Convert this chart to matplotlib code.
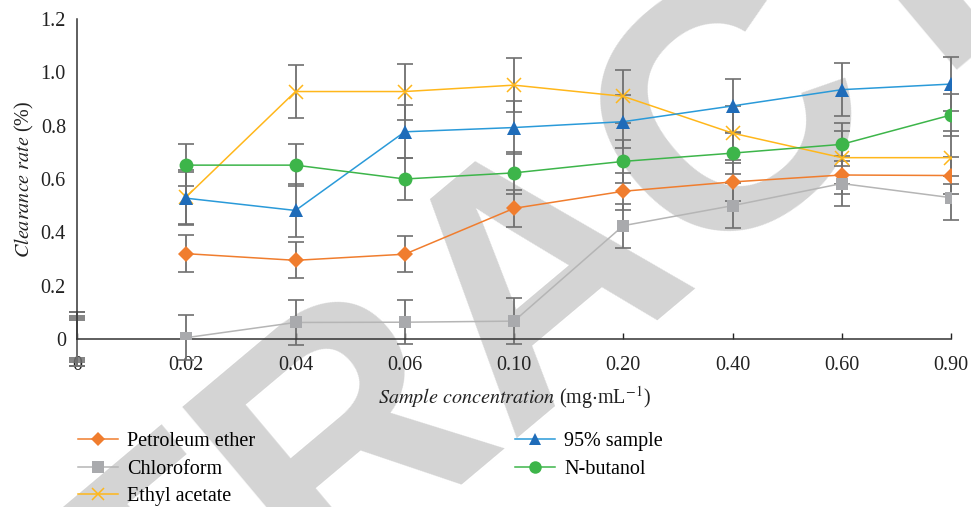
import numpy as np
import matplotlib.pyplot as plt
from matplotlib.lines import Line2D

plt.rcParams['font.family'] = ['Liberation Serif', 'DejaVu Serif']
plt.rcParams['mathtext.fontset'] = 'stix'

# concentrations (categorical axis)
conc = ['0', '0.02', '0.04', '0.06', '0.10', '0.20', '0.40', '0.60', '0.90']

# clearance rate (%) per extract, first point is the blank (0)
petroleum = [0, 0.32, 0.295, 0.318, 0.49, 0.554, 0.589, 0.615, 0.613]
chloroform = [0, 0.005, 0.062, 0.063, 0.067, 0.425, 0.50, 0.583, 0.53]
ethyl = [0, 0.533, 0.928, 0.928, 0.952, 0.91, 0.772, 0.68, 0.68]
sample95 = [0, 0.528, 0.482, 0.777, 0.793, 0.815, 0.874, 0.935, 0.956]
butanol = [0, 0.652, 0.652, 0.60, 0.623, 0.666, 0.697, 0.73, 0.84]

# error bars
petroleum_err = [0.07, 0.07, 0.068, 0.068, 0.07, 0.07, 0.07, 0.07, 0.07]
chloroform_err = [0.085, 0.085, 0.083, 0.083, 0.086, 0.082, 0.085, 0.083, 0.083]
ethyl_err = [0.1, 0.1, 0.1, 0.105, 0.1, 0.1, 0.1, 0.1, 0.1]
sample95_err = [0.1, 0.1, 0.1, 0.1, 0.1, 0.1, 0.1, 0.1, 0.1]
butanol_err = [0.08, 0.08, 0.08, 0.08, 0.08, 0.08, 0.08, 0.08, 0.08]

series = [
    ('Petroleum ether', petroleum, petroleum_err, '#F07D2E', '#F07D2E', 'D', 8),
    ('Chloroform', chloroform, chloroform_err, '#B5B5B5', '#A9AAAD', 's', 9),
    ('Ethyl acetate', ethyl, ethyl_err, '#FFB71B', '#FFB71B', 'x', 10),
    ('95% sample', sample95, sample95_err, '#2A9AD9', '#1F6CB9', '^', 10),
    ('N-butanol', butanol, butanol_err, '#3DB54A', '#3DB54A', 'o', 10),
]

fig = plt.figure(figsize=(9.71, 5.07), dpi=100)

# retraction watermark in the background
fig.text(0.620, 0.315, 'RETRACTED', fontsize=250, fontweight='bold',
         family='Liberation Sans', color='#d4d4d4', rotation=40,
         ha='center', va='baseline', rotation_mode='anchor', zorder=-1)

ax = fig.add_axes([77/971, 1-339/507, (951-77)/971, (339-19)/507])
ax.patch.set_alpha(0)

x = np.arange(len(conc))
handles = []
for name, vals, err, lc, mc, mk, ms in series:
    ax.errorbar(x, vals, yerr=err, fmt='none', ecolor='#707070',
                elinewidth=1.3, capsize=5.5, capthick=1.2, clip_on=False, zorder=2)
    mew = 1.1 if mk == 'x' else 0
    ax.plot(x[1:], vals[1:], color=lc, lw=1.1, marker=mk, ms=ms,
            markerfacecolor=mc, markeredgecolor=mc, markeredgewidth=mew, zorder=3)
    handles.append(Line2D([], [], color=lc, lw=1.1, marker=mk, ms=ms - 1,
                          markerfacecolor=mc, markeredgecolor=mc, markeredgewidth=mew))

ax.set_xlim(0, 8)
ax.set_ylim(0, 1.2)
ax.set_xticks(x)
ax.set_xticklabels(conc)
ax.set_yticks([0, 0.2, 0.4, 0.6, 0.8, 1.0, 1.2])
ax.set_yticklabels(['0', '0.2', '0.4', '0.6', '0.8', '1.0', '1.2'])
ax.tick_params(axis='x', direction='in', length=4.5, width=1, pad=12,
               labelsize=14.5, colors='#222222')
ax.tick_params(axis='y', length=0, pad=8, labelsize=14.5, colors='#222222')
for s in ['top', 'right']:
    ax.spines[s].set_visible(False)
for s in ['left', 'bottom']:
    ax.spines[s].set_color('#333333')
    ax.spines[s].set_linewidth(1.1)

ax.set_ylabel(r'$\it{Clearance\ rate}$ (%)', fontsize=14.5, labelpad=3,
              color='#222222')
ax.set_xlabel(r'$\it{Sample\ concentration}$ (mg$\cdot$mL$^{-1}$)',
              fontsize=14.5, labelpad=7, color='#222222')

leg1 = fig.legend(handles[:3], [s[0] for s in series[:3]], loc='upper left',
                  bbox_to_anchor=(70/971, 1-424/507), frameon=False,
                  fontsize=14.5, handlelength=2.0, handletextpad=0.45,
                  labelspacing=0.42, borderaxespad=0)
leg2 = fig.legend(handles[3:], [s[0] for s in series[3:]], loc='upper left',
                  bbox_to_anchor=(507/971, 1-424/507), frameon=False,
                  fontsize=14.5, handlelength=2.0, handletextpad=0.45,
                  labelspacing=0.42, borderaxespad=0)

fig.savefig('out.png', dpi=100)
